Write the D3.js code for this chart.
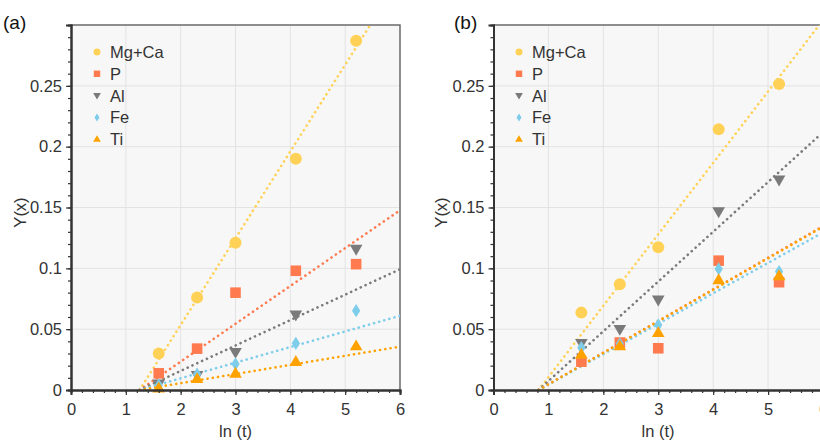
<!DOCTYPE html>
<html><head><meta charset="utf-8">
<script src="https://cdn.jsdelivr.net/npm/d3@7"></script>
<style>
html,body{margin:0;padding:0;background:#fff;}
svg{display:block;font-family:"Liberation Sans",Arial,sans-serif;}
</style></head>
<body><svg id="c" width="820" height="440"></svg>
<script>
// ---- data ----
const seriesNames = ["Mg+Ca","P","Al","Fe","Ti"];
const seriesColors = ["#FFD257","#FF7B4F","#7A7A7A","#7DCDEB","#FFA200"];
const seriesShapes = ["circle","square","triangleDown","diamond","triangle"];
const xValues = [1.6, 2.3, 3.0, 4.1, 5.2];
// panel (a)
const aMgCa = [0.030, 0.076, 0.121, 0.190, 0.287];
const aP    = [0.0137, 0.034, 0.080, 0.098, 0.1034];
const aAl   = [0.005, 0.012, 0.031, 0.0617, 0.1157];
const aFe   = [0.004, 0.013, 0.0214, 0.0384, 0.0652];
const aTi   = [0.0015, 0.0093, 0.0137, 0.0233, 0.0362];
// fitted lines (a): x-intercept and slope
const aFitX0    = [1.25, 1.25, 1.25, 1.25, 1.25];
const aFitSlope = [0.0713, 0.0311, 0.0209, 0.01284, 0.0075];
// panel (b)
const bMgCa = [0.0636, 0.0869, 0.1173, 0.2143, 0.2516];
const bP    = [0.0233, 0.039, 0.0343, 0.1063, 0.0886];
const bAl   = [0.0384, 0.0499, 0.074, 0.1466, 0.1727];
const bFe   = [0.0348, 0.038, 0.0535, 0.0995, 0.0973];
const bTi   = [0.0293, 0.0362, 0.0471, 0.0905, 0.0938];
const bFitX0    = [0.82, 0.82, 0.82, 0.82, 0.82];
const bFitSlope = [0.0587, 0.0260, 0.0409, 0.0250, 0.0259];
// ticks
const xTicks = [0,1,2,3,4,5,6];
const yTicks = [0,0.05,0.1,0.15,0.2,0.25];
const yTickLabels = ["0","0.05","0.1","0.15","0.2","0.25"];
const xLabel = "ln (t)";
const yLabel = "Y(x)";

const svg = d3.select("#c");

function symbolPath(shape, s){
  // s: nominal size (px)
  if(shape==="circle") return d3.symbol(d3.symbolCircle, Math.PI*(s/2)*(s/2))();
  if(shape==="square") return d3.symbol(d3.symbolSquare, s*s*0.85)();
  if(shape==="triangle"){const h=s*0.95,w=s*1.1;return `M0,${-h*0.6}L${w/2},${h*0.4}L${-w/2},${h*0.4}Z`;}
  if(shape==="triangleDown"){const h=s*0.95,w=s*1.1;return `M0,${h*0.6}L${w/2},${-h*0.4}L${-w/2},${-h*0.4}Z`;}
  if(shape==="diamond"){const h=s*1.15,w=s*0.72;return `M0,${-h/2}L${w/2},0L0,${h/2}L${-w/2},0Z`;}
}

function panel(opts){
  const {x0,x1,y0,y1,series,fitX0,fitSlope,label,labelX,legendX,yLabX} = opts;
  const x = d3.scaleLinear().domain([0,6]).range([x0,x1]);
  const y = d3.scaleLinear().domain([0,0.3]).range([y0,y1]);
  const g = svg.append("g");
  const clipId = "clip"+label.replace(/\W/g,"");
  svg.append("clipPath").attr("id",clipId).append("rect")
    .attr("x",x0).attr("y",y1).attr("width",x1-x0).attr("height",y0-y1);
  g.append("rect").attr("x",x0).attr("y",y1).attr("width",x1-x0).attr("height",y0-y1)
    .attr("fill","#f7f7f7");
  // grid
  g.append("g").selectAll("line").data(xTicks.filter(t=>t>0&&t<6)).join("line")
    .attr("x1",d=>x(d)).attr("x2",d=>x(d)).attr("y1",y0).attr("y2",y1)
    .attr("stroke","#e3e3e3").attr("stroke-width",1);
  g.append("g").selectAll("line").data(yTicks.filter(t=>t>0)).join("line")
    .attr("x1",x0).attr("x2",x1).attr("y1",d=>y(d)).attr("y2",d=>y(d))
    .attr("stroke","#e3e3e3").attr("stroke-width",1);
  // frame top/right
  g.append("path").attr("d",`M${x0},${y1}H${x1}V${y0}`).attr("fill","none")
    .attr("stroke","#6a6a6a").attr("stroke-width",1.5);
  // fit lines
  const lines = g.append("g").attr("clip-path",`url(#${clipId})`);
  series.forEach((s,i)=>{
    const xa = fitX0[i], xb = 6;
    lines.append("line")
      .attr("x1",x(xa)).attr("y1",y(0))
      .attr("x2",x(xb)).attr("y2",y(fitSlope[i]*(xb-xa)))
      .attr("stroke",seriesColors[i]).attr("stroke-width",2.6)
      .attr("stroke-linecap","round").attr("stroke-dasharray","0.1 5.2");
  });
  // points
  series.forEach((s,i)=>{
    g.append("g").selectAll("path").data(s.map((v,j)=>[xValues[j],v])).join("path")
      .attr("d",symbolPath(seriesShapes[i], seriesShapes[i]==="circle"?12:11.5))
      .attr("transform",d=>`translate(${x(d[0])},${y(d[1])})`)
      .attr("fill",seriesColors[i]);
  });
  // axes
  const xAxis = d3.axisBottom(x).tickValues(xTicks).tickSize(5).tickPadding(6).tickFormat(d3.format("d"));
  const xMinor = d3.axisBottom(x).tickValues(d3.range(0,6.001,0.2)).tickSize(3).tickFormat("");
  const yAxis = d3.axisLeft(y).tickValues(yTicks).tickSize(5).tickPadding(4).tickFormat((d,i)=>yTickLabels[i]);
  const yMinor = d3.axisLeft(y).tickValues(d3.range(0,0.3001,0.01)).tickSize(3).tickFormat("");
  const gxm = g.append("g").attr("transform",`translate(0,${y0})`).call(xMinor);
  const gx = g.append("g").attr("transform",`translate(0,${y0})`).call(xAxis);
  const gym = g.append("g").attr("transform",`translate(${x0},0)`).call(yMinor);
  const gy = g.append("g").attr("transform",`translate(${x0},0)`).call(yAxis);
  [gxm,gx,gym,gy].forEach(a=>{
    a.select(".domain").attr("stroke","#333").attr("stroke-width",2);
    a.selectAll(".tick line").attr("stroke","#333").attr("stroke-width",1.2);
    a.selectAll("text").attr("font-size",16.5).attr("fill","#333")
      .attr("font-family","'Liberation Sans',Arial,sans-serif");
  });
  gx.selectAll("text").attr("dy","0.85em");
  // axis labels
  g.append("text").attr("x",(x0+Math.min(x1,x0+329))/2).attr("y",437).attr("text-anchor","middle")
    .attr("font-size",16.5).attr("fill","#333").text(xLabel);
  g.append("text").attr("transform",`translate(${yLabX},${(y0+y1)/2+5}) rotate(-90)`)
    .attr("text-anchor","middle").attr("font-size",16.5).attr("fill","#333").text(yLabel);
  // panel label
  g.append("text").attr("x",labelX).attr("y",29).attr("font-size",19).attr("fill","#111").text(label);
  // legend
  seriesNames.forEach((n,i)=>{
    const ly = 52 + i*21.8;
    g.append("path").attr("d",symbolPath(seriesShapes[i],7))
      .attr("transform",`translate(${legendX},${ly})`).attr("fill",seriesColors[i]);
    g.append("text").attr("x",legendX+13).attr("y",ly+6).attr("font-size",16.5)
      .attr("fill","#333").text(n);
  });
}

panel({x0:71,x1:400,y0:390,y1:25,series:[aMgCa,aP,aAl,aFe,aTi],
  fitX0:aFitX0,fitSlope:aFitSlope,label:"(a)",labelX:3,legendX:97,yLabX:26});
panel({x0:493.5,x1:823,y0:390,y1:25,series:[bMgCa,bP,bAl,bFe,bTi],
  fitX0:bFitX0,fitSlope:bFitSlope,label:"(b)",labelX:454,legendX:519,yLabX:447});
</script></body></html>
